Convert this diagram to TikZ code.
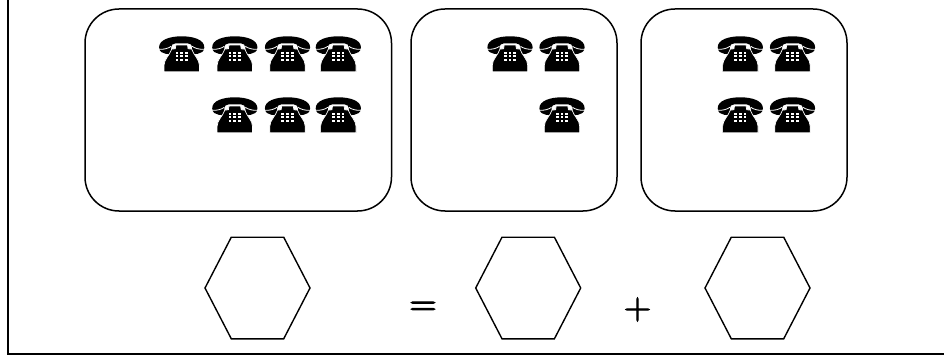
\documentclass[tikz,border=0pt]{standalone}
\usepackage{fontspec}
\newfontfamily\signfont[FakeBold=3]{Latin Modern Roman}
\tikzset{
  x=1pt,y=-1pt,
  frameline/.style={draw=black,line width=2pt,line cap=rect},
  panel/.style={draw=black,line width=1.5pt,rounded corners=34pt},
  hexline/.style={draw=black,line width=1.4pt,line join=miter},
  sign/.style={inner sep=0pt,font=\signfont\fontsize{37}{40}\selectfont},
  phone/.pic={
    % handset
    \fill[black] (-22.6,11) .. controls (-22.6,3.5) and (-12,0) .. (0,0)
      .. controls (12,0) and (22.6,3.5) .. (22.6,11)
      .. controls (22.6,15.5) and (19,17) .. (16,17.5)
      -- (10.5,18) -- (10.5,11)
      .. controls (10.5,8.5) and (9,7.5) .. (6,7)
      -- (-6,7) .. controls (-9,7.5) and (-10.5,8.5) .. (-10.5,11)
      -- (-10.5,18) -- (-16,17.5) .. controls (-19,17) and (-22.6,15.5) .. (-22.6,11) -- cycle;
    % white slit across the ear pieces
    \draw[white,line width=0.8pt] (-23,13) .. controls (-18,13.4) and (-13,12) .. (-10.5,10);
    \draw[white,line width=0.8pt] (23,13) .. controls (18,13.4) and (13,12) .. (10.5,10);
    % body
    \draw[white,line width=0.7pt,fill=black] (-5.8,8.8) -- (5.8,8.8) -- (6.4,12.5) -- (10,12.8)
      .. controls (12,19) and (17.7,23) .. (17.7,29) -- (17.7,35.5) -- (-17.7,35.5) -- (-17.7,29)
      .. controls (-17.7,23) and (-12,19) .. (-10,12.8) -- (-6.4,12.5) -- cycle;
    % keypad
    \foreach \kx in {-4.7,0,4.7}
      \foreach \ky in {17,20.2,23.4}
        \fill[white] (\kx-1.35,\ky-1) rectangle (\kx+1.35,\ky+1);
  },
  hexagon/.pic={
    \draw[hexline] (-52.5,0) -- (-26.2,-50.8) -- (26.2,-50.8) -- (52.5,0)
      -- (26.2,50.8) -- (-26.2,50.8) -- cycle;
  }
}
\begin{document}
\begin{tikzpicture}
\useasboundingbox (0,0) rectangle (944,358);
\fill[white] (0,0) rectangle (944,358);
\draw[frameline] (7.5,-3) -- (7.5,354) -- (947,354);
\draw[panel] (85,9) rectangle (391.5,211);
\draw[panel] (411,9) rectangle (617,211);
\draw[panel] (641,9) rectangle (847,211);
\foreach \px in {181.7,234.8,287.5,338.3,510,562,740.3,792.5}
  \pic at (\px,36.3) {phone};
\foreach \px in {234.8,287.5,338.3,562,740.3,792.5}
  \pic at (\px,97.3) {phone};
\pic at (257.5,288) {hexagon};
\pic at (528.2,288) {hexagon};
\pic at (757.5,288) {hexagon};
\node[sign] (eq) at (423,308.5) {=};
\node[sign] (pl) at (637.5,309.5) {+};
\end{tikzpicture}
\end{document}
